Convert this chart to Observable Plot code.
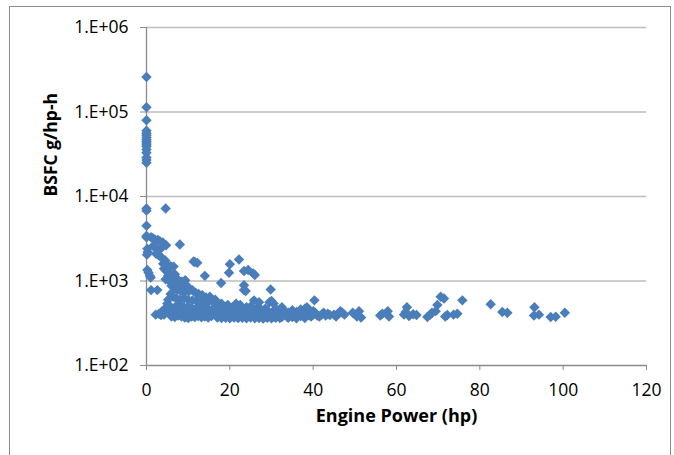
<!DOCTYPE html>
<html>
<head>
<meta charset="utf-8">
<script src="https://cdn.jsdelivr.net/npm/d3@7"></script>
<script src="https://cdn.jsdelivr.net/npm/@observablehq/plot@0.6"></script>
<style>
  html, body { margin: 0; padding: 0; background: #fff; }
  #wrap { position: relative; width: 674px; height: 455px; overflow: hidden; }
  #border { position: absolute; left: 9px; top: 6px; width: 662px; height: 470px; border: 1.5px solid #8c8c8c; box-sizing: border-box; }
  #chart { position: absolute; left: 0; top: 0; }
</style>
</head>
<body>
<div id="wrap"><div id="border"></div><div id="chart"></div></div>
<script>
// Tick values and labels
const xTicks = [0, 20, 40, 60, 80, 100, 120];
const yTicks = [1e2, 1e3, 1e4, 1e5, 1e6];
const yTickLabels = ["1.E+02", "1.E+03", "1.E+04", "1.E+05", "1.E+06"];
const xTitle = "Engine Power (hp)";
const yTitle = "BSFC g/hp-h";

// [engine power (hp), BSFC (g/hp-h)]
const idleSamples = [
  [0,260000],[0,114000],[0,80000],[0,60000],[0,56000],[0,53000],[0,50000],[0,47000],[0,45000],
  [0,43000],[0,41000],[0,39000],[0,36000],[0,33000],[0,29000],[0,27000],[0,25000],[0,7200],
  [0,6800],[0,4500],[0,3400],[0,3300],[0.2,2400],[0.3,2200],[0.1,2050],[0.2,1350],[0.5,1250],
  [0.8,1150],[1,1100],[1.1,780],[2.6,780]
];
const lowPowerSamples = [
  [1.1,3300],[1.5,3200],[2,3100],[2.7,3050],[3.2,2950],[3.9,2850],[4.7,2650],[1.6,2600],[2.3,2450],
  [3.4,2400],[2.3,2100],[3,2000],[3.6,1900],[4.5,1750],[4,1600],[5,1550],[5.8,1500],[6.5,1480],
  [4.2,1400],[4.8,1300],[5.5,1250],[5.2,1150],[6,1120],[6.8,1200],[7.2,1080],[4.6,1050],[5.5,1000],
  [6.3,980],[7,950],[7.8,1000],[8.5,980],[9.3,1020],[8,900],[9,870],[10,850],[6,880],[6.8,820],
  [7.5,780],[8.3,760],[9.2,740],[10.2,760],[11,780],[11.8,720],[12.5,700],[13.4,680],[14.3,640],
  [15.2,650],[5.8,700],[6.5,650],[7.2,620],[8,600],[9,620],[10,600],[11,590],[12,580],[13,560],
  [14,560],[15,580],[16,560],[5.2,600],[5,540],[5.6,500],[6.2,470],[7,500],[8,520],[9,490],[10,500],
  [11,470],[12,480],[13,460],[14,490],[15,460],[16,470],[4.4,470],[3.8,440],[4.6,430],[5.4,420],
  [6.2,410],[7,430],[7.8,450],[8.6,420],[9.4,440],[10.2,420],[11,440],[11.8,410],[12.6,430],
  [13.4,410],[14.2,430],[15,410],[15.8,420],[3,410],[2.2,400],[3.5,395],[4.2,400],[6,380],[6.8,375],
  [7.6,390],[8.4,380],[9.2,370],[10,365],[10.8,380],[11.6,375],[12.4,385],[13.2,372],[14,380],
  [14.8,370],[15.6,385],[8,2700],[4.6,7200],[11.6,1680],[12.2,1640],[14,1150],[11.3,1700]
];
const midPowerSamples = [
  [16.5,600],[17,520],[17.5,480],[18,540],[18.5,500],[19,460],[19.5,520],[20,480],[20.5,450],
  [21,500],[21.5,540],[22,480],[22.5,520],[23,470],[23.5,450],[24,490],[24.5,460],[25,500],
  [26,450],[26.5,480],[27.5,460],[28,440],[28.5,470],[29,450],[29.5,560],[30,580],[30.5,540],
  [27,560],[31,470],[31.5,440],[32,460],[32.5,490],[33,440],[34,420],[35,450],[36,430],[37,460],
  [37.5,430],[38,470],[38.5,490],[39,450],[40,440],[16.5,430],[17,410],[17.5,390],[18,420],
  [18.5,400],[19,380],[19.5,410],[20,390],[20.5,420],[21,400],[21.5,380],[22,410],[22.5,390],
  [23,420],[23.5,400],[24,380],[24.5,410],[25,390],[25.5,420],[26,380],[26.5,400],[27,420],
  [27.5,390],[28,400],[28.5,380],[29,410],[29.5,390],[30,410],[30.5,380],[31,400],[31.5,420],
  [32,390],[32.5,375],[33,400],[33.5,420],[34,385],[34.5,400],[35,375],[35.5,400],[36,390],
  [36.5,410],[37,385],[37.5,400],[38,380],[38.5,410],[39,395],[39.5,380],[40,400],[40.5,420],
  [41,390],[41.5,380],[42,400],[42.5,420],[43,390],[43.5,410],[44,395],[45,400],[46,410],
  [46.5,440],[47,420],[47.5,400],[45.5,380],[49.5,420],[50.5,380],[51,440],[51.5,370],[17,370],
  [18,365],[19,368],[20,362],[21,370],[22,365],[23,368],[24,362],[25,370],[26,362],[27,365],
  [28,360],[29,366],[30,362],[31,368],[32,364],[34,366],[36,362],[38,365],[40.3,590],[17.9,946],
  [23.4,890],[23.4,780],[29.8,795],[25.8,590],[22.2,1800],[20,1580],[19.8,1250],[23.4,1310],
  [25.6,1230],[24.4,1350],[26,1180],[23.8,760]
];
const highPowerSamples = [
  [56.1,390],[56.6,410],[57.9,440],[58.2,380],[61.8,400],[62.5,490],[62.2,430],[63,385],[64,405],
  [64.8,395],[67.4,375],[68,395],[68.5,420],[69.4,440],[69.8,520],[70.6,650],[71.4,620],[71.7,380],
  [72.2,395],[73.7,400],[74.6,410],[75.8,590],[82.6,530],[85.4,430],[86.6,420],[93.1,490],[93,390],
  [94.2,400],[97,375],[98.2,378],[100.4,420]
];

const data = [...idleSamples, ...lowPowerSamples, ...midPowerSamples, ...highPowerSamples]
  .map(([hp, bsfc]) => ({hp, bsfc}));

const labelFor = new Map(yTicks.map((t, i) => [t, yTickLabels[i]]));
const font = "'Open Sans', 'Liberation Sans', sans-serif";

const chart = Plot.plot({
  width: 674,
  height: 455,
  marginLeft: 146,
  marginRight: 28,
  marginTop: 27,
  marginBottom: 90,
  style: {fontFamily: font, background: "transparent", color: "#000"},
  x: {domain: [0, 120]},
  y: {type: "log", domain: [1e2, 1e6]},
  marks: [
    Plot.ruleY(yTicks.slice(1), {stroke: "#bdbdbd", strokeWidth: 1.5}),
    Plot.ruleX([0], {stroke: "#8a8a8a", strokeWidth: 1.3}),
    Plot.ruleY([1e2], {stroke: "#8a8a8a", strokeWidth: 1.3}),
    Plot.axisY(yTicks, {
      tickSize: 6, tickPadding: 12, stroke: "#8a8a8a", fill: "#000",
      fontSize: 17.5, tickFormat: d => labelFor.get(d), label: null
    }),
    Plot.axisX(xTicks, {
      tickSize: 5, tickPadding: 13, stroke: "#8a8a8a", fill: "#000",
      fontSize: 17.5, label: null
    }),
    Plot.dot(data, {x: "hp", y: "bsfc", symbol: "diamond2", r: 4.7, fill: "#4A7EBB", stroke: "none"}),
    Plot.text([yTitle], {frameAnchor: "left", dx: -95, rotate: -90, fontSize: 17.5, fontWeight: "bold", fill: "#000"}),
    Plot.text([xTitle], {frameAnchor: "bottom", dy: 56, fontSize: 18, fontWeight: "bold", fill: "#000"})
  ]
});
document.getElementById("chart").appendChild(chart);
</script>
</body>
</html>
